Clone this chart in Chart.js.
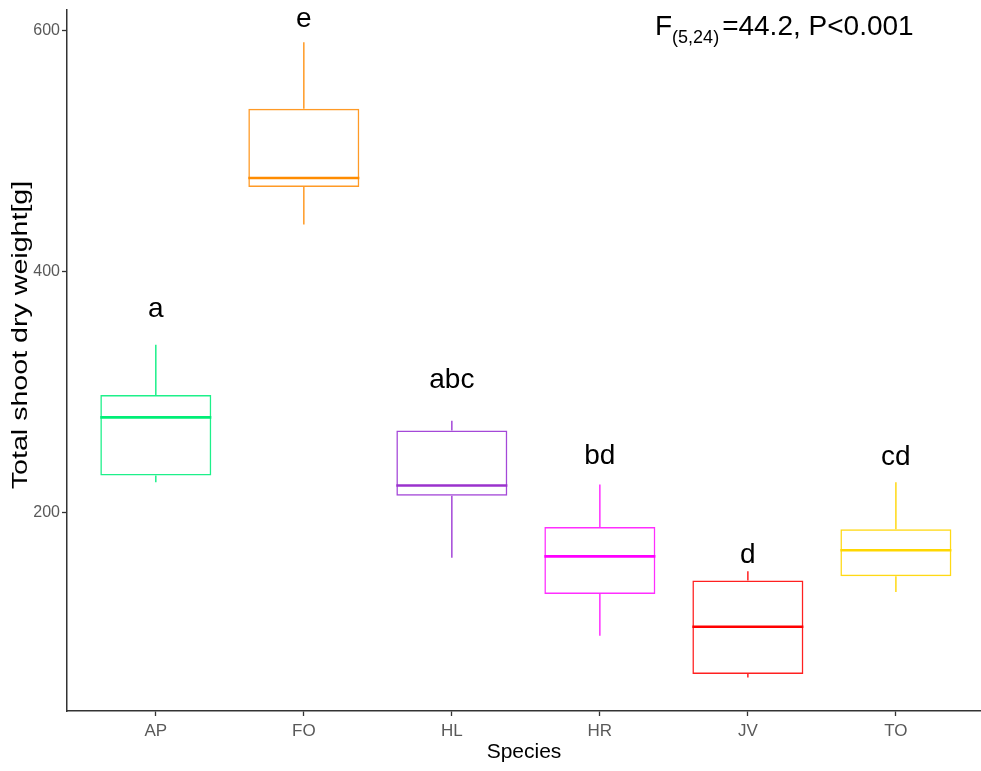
<!DOCTYPE html>
<html>
<head>
<meta charset="utf-8">
<script src="https://cdn.jsdelivr.net/npm/chart.js@4.4.0/dist/chart.umd.min.js"></script>
<style>
  html, body { margin: 0; padding: 0; background: #fff; }
  #wrap { width: 981px; height: 771px; }
</style>
</head>
<body>
<div id="wrap"><canvas id="boxChart"></canvas></div>
<script>
const species = ['AP', 'FO', 'HL', 'HR', 'JV', 'TO'];
const whiskerLow = [225.3, 439.3, 162.7, 97.8, 63.3, 134.3];
const q1 = [230.9, 470.5, 214.1, 132.6, 66.1, 147.2];
const median = [279.2, 477.9, 222.6, 163.8, 105.3, 168.8];
const q3 = [297.7, 535.4, 268.2, 188.1, 143.7, 186.4];
const whiskerHigh = [339.4, 590.6, 276.4, 223.4, 151.4, 225.3];
const groupLetters = ['a', 'e', 'abc', 'bd', 'd', 'cd'];
const letterY = [369, 610, 310, 247, 165, 246];
const yTicks = [200, 400, 600];

const boxColors = ['#1DF08A', '#FF9A26', '#A448D8', '#FF2EFF', '#FF2020', '#FFD915'];
const medianColors = ['#00EE76', '#FF8C00', '#9A32CD', '#FF00FF', '#FF0000', '#FFD700'];

const FONT = "'Liberation Sans', Arial, sans-serif";

// whiskers and median lines, positioned from the bar elements and the y scale
const whiskerPlugin = {
  id: 'whiskers',
  afterDatasetsDraw(chart) {
    const ctx = chart.ctx;
    const y = chart.scales.y;
    const bars = chart.getDatasetMeta(0).data;
    ctx.save();
    bars.forEach((bar, i) => {
      const cx = bar.x;
      const half = bar.width / 2;
      ctx.strokeStyle = boxColors[i];
      ctx.lineWidth = 1.5;
      ctx.beginPath();
      ctx.moveTo(cx, y.getPixelForValue(whiskerHigh[i]));
      ctx.lineTo(cx, y.getPixelForValue(q3[i]));
      ctx.moveTo(cx, y.getPixelForValue(q1[i]));
      ctx.lineTo(cx, y.getPixelForValue(whiskerLow[i]));
      ctx.stroke();

      ctx.strokeStyle = medianColors[i];
      ctx.lineWidth = 2.6;
      ctx.beginPath();
      ctx.moveTo(cx - half, y.getPixelForValue(median[i]));
      ctx.lineTo(cx + half, y.getPixelForValue(median[i]));
      ctx.stroke();
    });
    ctx.restore();
  }
};

// significance letters, F statistic and the y axis title
const textPlugin = {
  id: 'texts',
  afterDraw(chart) {
    const ctx = chart.ctx;
    const x = chart.scales.x, y = chart.scales.y;
    ctx.save();
    ctx.fillStyle = '#000';
    ctx.textAlign = 'center';
    ctx.textBaseline = 'middle';
    ctx.font = '28px ' + FONT;
    groupLetters.forEach((t, i) => {
      ctx.fillText(t, x.getPixelForValue(i + 1), y.getPixelForValue(letterY[i]));
    });

    // F(5,24) =44.2, P<0.001
    ctx.textAlign = 'left';
    ctx.textBaseline = 'alphabetic';
    let px = 655;
    ctx.font = '28px ' + FONT;
    ctx.fillText('F', px, 35);
    px += ctx.measureText('F').width;
    ctx.font = '18px ' + FONT;
    ctx.fillText('(5,24)', px, 43);
    px += ctx.measureText('(5,24)').width + 3;
    ctx.font = '28px ' + FONT;
    ctx.fillText('=44.2, P<0.001', px, 35);

    // y title, drawn a bit stretched along its length
    ctx.translate(21, 335);
    ctx.rotate(-Math.PI / 2);
    ctx.scale(1.3, 1);
    ctx.textAlign = 'center';
    ctx.textBaseline = 'middle';
    ctx.font = '22px ' + FONT;
    ctx.fillText('Total shoot dry weight[g]', 0, 0);
    ctx.restore();
  }
};

const ctx = document.getElementById('boxChart').getContext('2d');
new Chart(ctx, {
  type: 'bar',
  data: {
    datasets: [{
      label: 'Total shoot dry weight',
      data: species.map((s, i) => ({ x: i + 1, y: [q1[i], q3[i]] })),
      backgroundColor: 'rgba(255,255,255,0)',
      borderColor: boxColors,
      borderWidth: 1.5,
      borderSkipped: false,
      categoryPercentage: 1,
      barPercentage: 0.75
    }]
  },
  options: {
    responsive: true,
    maintainAspectRatio: false,
    animation: false,
    layout: { padding: { top: 8, right: 0, left: 0, bottom: 0 } },
    plugins: {
      legend: { display: false },
      tooltip: { enabled: false }
    },
    scales: {
      x: {
        type: 'linear',
        min: 0.4,
        max: 6.575,
        offset: false,
        afterBuildTicks: (scale) => { scale.ticks = species.map((s, i) => ({ value: i + 1 })); },
        afterFit: (scale) => { scale.height = 60; },
        ticks: {
          callback: (v) => species[v - 1],
          color: '#595959',
          font: { family: FONT, size: 17 },
          padding: 5,
          autoSkip: false,
          maxRotation: 0
        },
        grid: { display: true, offset: false, drawOnChartArea: false, drawTicks: true, tickLength: 5, tickColor: '#333', tickWidth: 1.3 },
        border: { display: true, color: '#333', width: 1.5 },
        title: {
          display: true,
          text: 'Species',
          color: '#000',
          font: { family: FONT, size: 21 },
          padding: { top: 0, bottom: 6 }
        }
      },
      y: {
        min: 35.4,
        max: 617.4,
        afterBuildTicks: (scale) => { scale.ticks = yTicks.map(v => ({ value: v })); },
        afterFit: (scale) => { scale.width = 67; },
        ticks: {
          color: '#595959',
          font: { family: FONT, size: 16, lineHeight: 1 },
          padding: 2
        },
        grid: { display: true, drawOnChartArea: false, drawTicks: true, tickLength: 5, tickColor: '#333', tickWidth: 1.3 },
        border: { display: true, color: '#333', width: 1.5 }
      }
    }
  },
  plugins: [whiskerPlugin, textPlugin]
});
</script>
</body>
</html>
